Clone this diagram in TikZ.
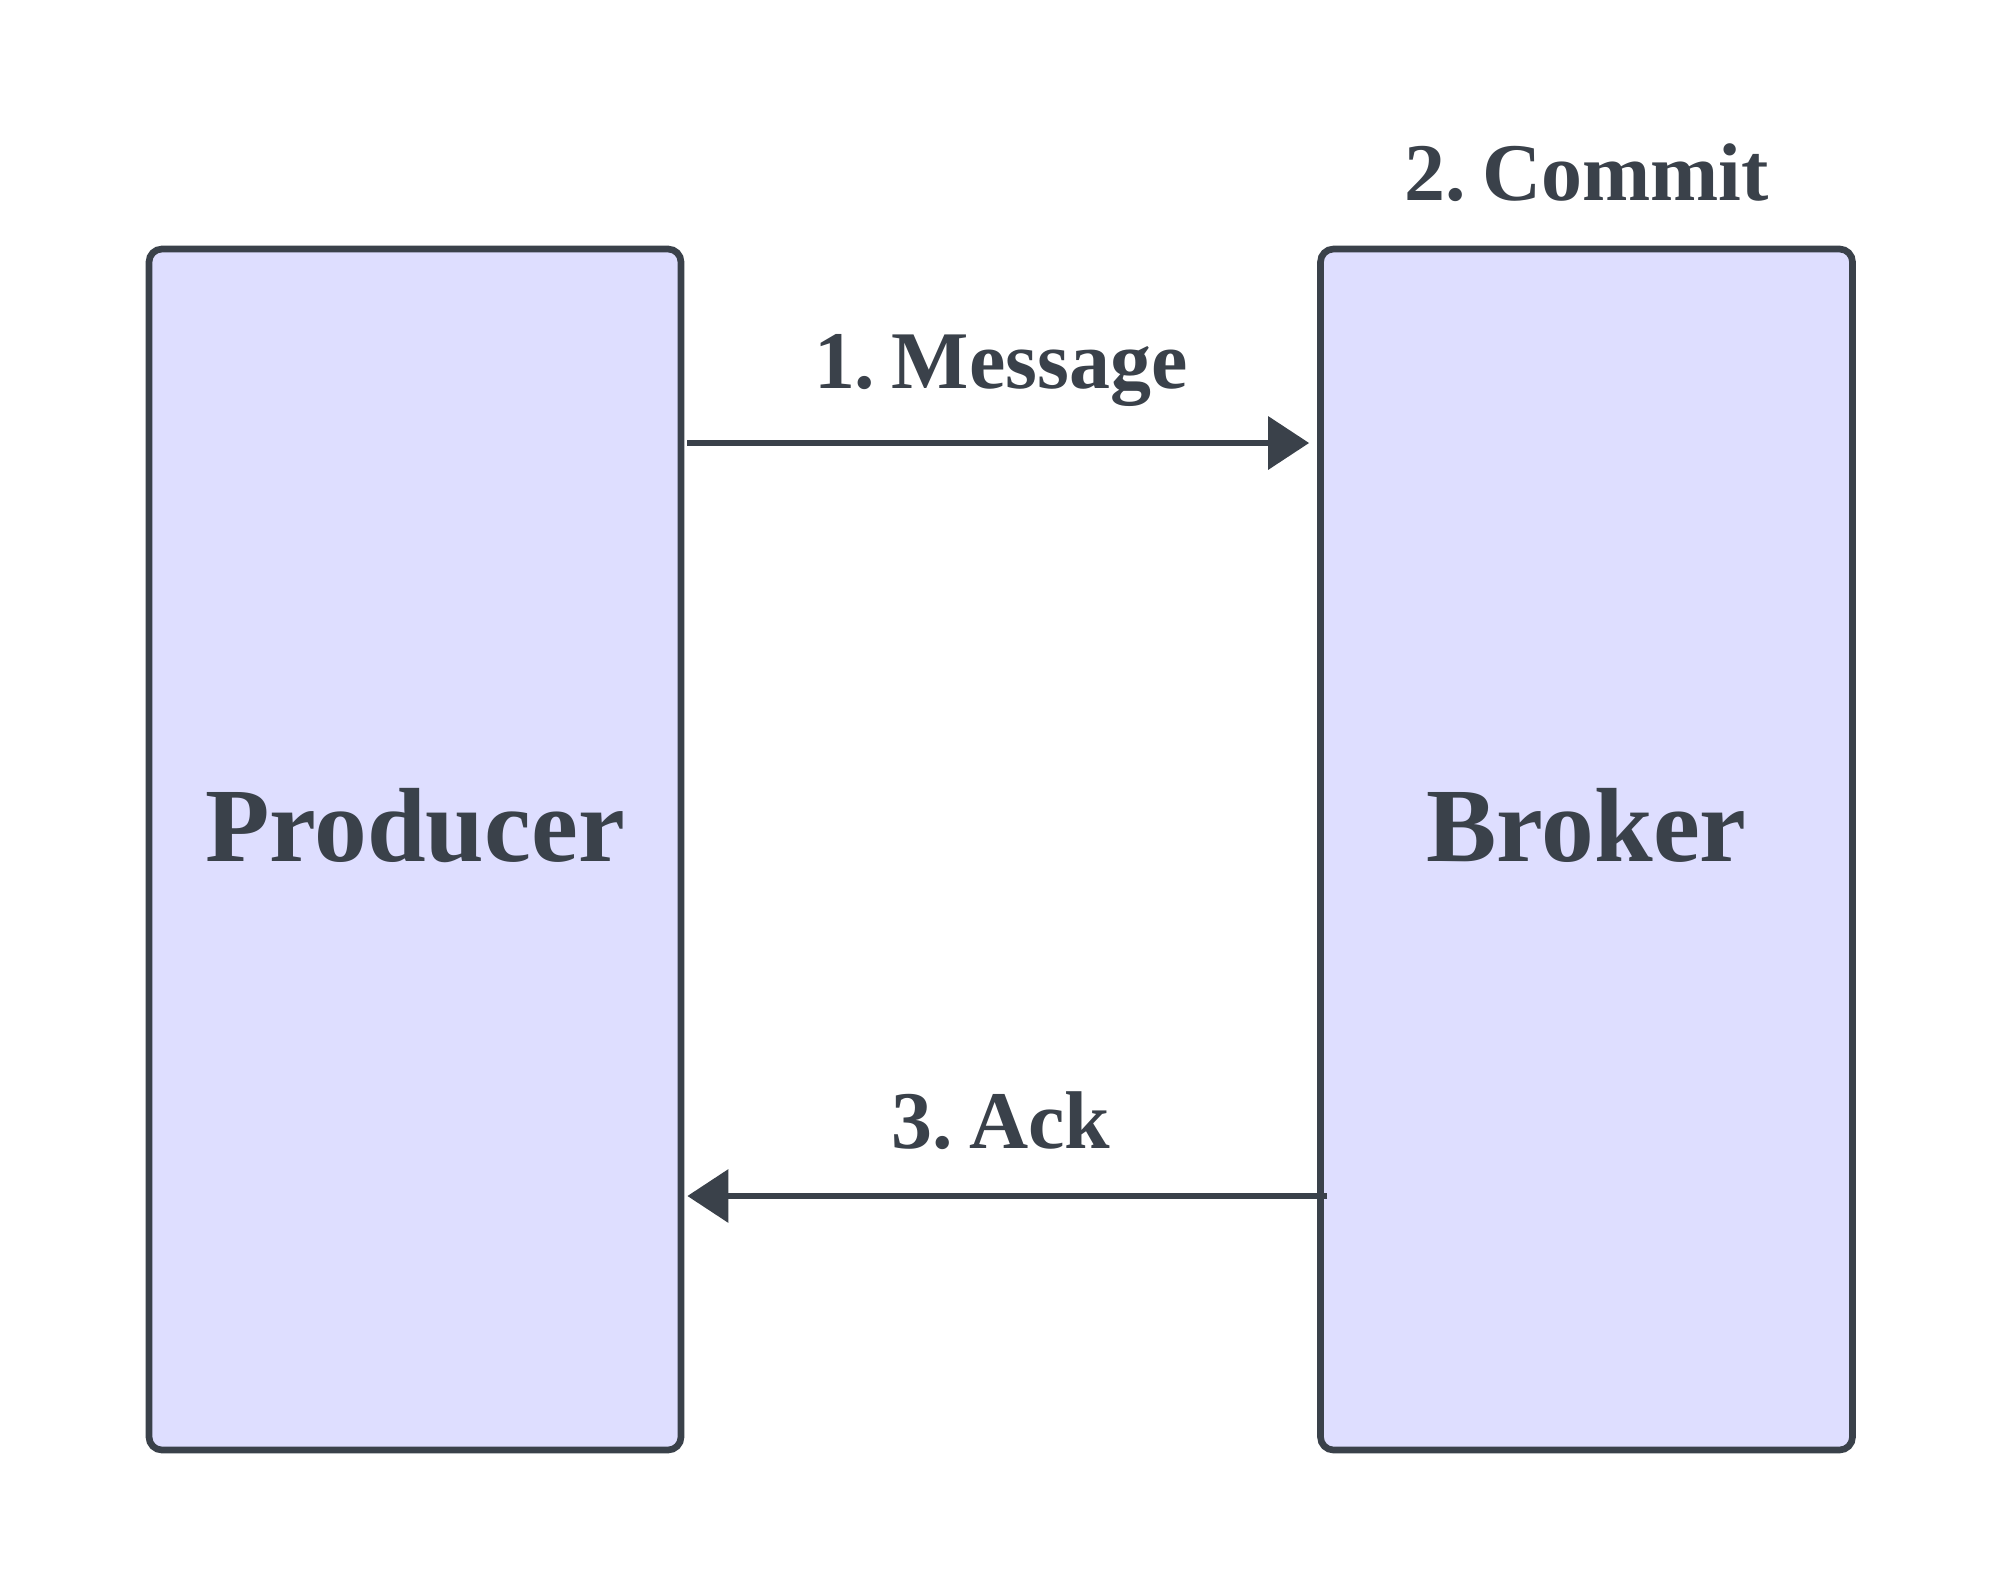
\documentclass[tikz,border=0pt]{standalone}
\usepackage{fontspec}
\setmainfont{Liberation Serif}
\usepackage{xcolor}
\usepackage{tikz}
\usetikzlibrary{positioning, arrows.meta}
\definecolor{BoxFill}{HTML}{DEDEFF}
\definecolor{InkGray}{HTML}{3A414A}

\begin{document}
\begin{tikzpicture}[
  >={Triangle[length=0.41cm, width=0.52cm]},
  flowarr/.style={->, line width=1.9pt, color=InkGray},
  party/.style={draw=InkGray, fill=BoxFill, text=InkGray, line width=1.9pt,
                rounded corners=0.13cm, minimum width=5.32cm, minimum height=12.01cm,
                font=\bfseries\fontsize{30}{36}\selectfont, text depth=0.5cm},
  steplbl/.style={text=InkGray, inner sep=0pt,
                  font=\bfseries\fontsize{23.3}{28}\selectfont},
]
  \useasboundingbox (0,0) rectangle (20,-15.79);

  % Producer: left
  \node[party] (P) at (4.15, -8.495) {Producer};

  % Broker: right
  \node[party] (B) at (15.865, -8.495) {Broker};

  % step 2 above the broker
  \node[steplbl, above=0.43cm of B] (commit) {2.\hspace{0.2em}Commit};

  %% P -> B (message)
  \draw[flowarr, shorten <=0.03cm, shorten >=0.08cm]
    ([yshift=4.065cm]P.east) -- ([yshift=4.065cm]B.west)
    node[midway, steplbl, above=0.33cm] (msg) {1.\hspace{0.2em}Message};

  %% B -> P (ack)
  \draw[flowarr, shorten <=-0.1cm, shorten >=0.03cm]
    ([yshift=-3.465cm]B.west) -- ([yshift=-3.465cm]P.east)
    node[midway, steplbl, above=0.43cm] (ack) {3.\hspace{0.2em}Ack};

\end{tikzpicture}
\end{document}
